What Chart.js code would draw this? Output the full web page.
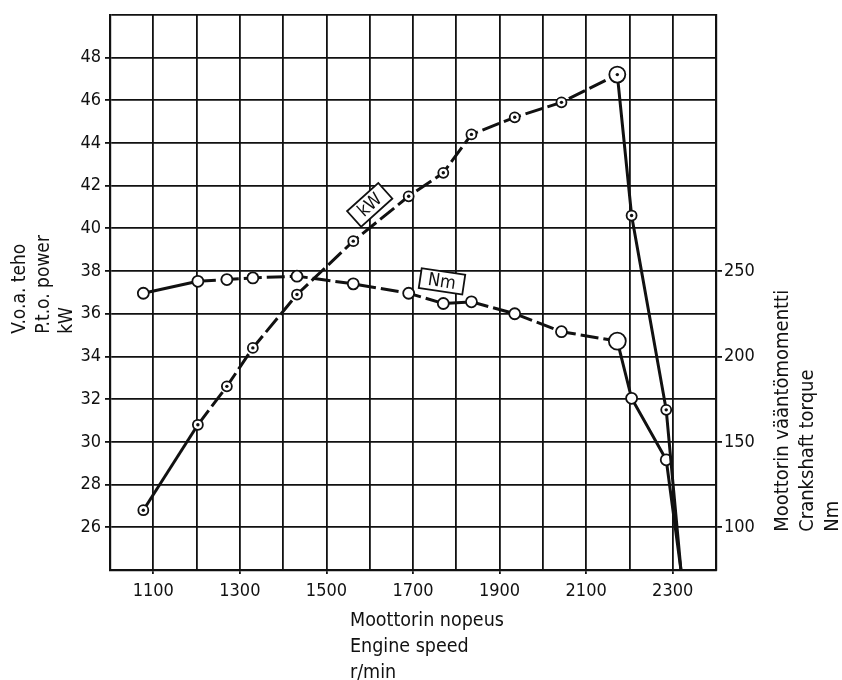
<!DOCTYPE html>
<html>
  <head>
    <title>Moottorin teho ja vääntömomentti</title>
    <script src="https://cdn.jsdelivr.net/npm/chart.js"></script>
    <style>
      body { margin: 0; background: #fff; }
      #wrap { width: 842px; height: 680px; }
    </style>
  </head>
  <body>
    <div id="wrap"><canvas id="engineChart"></canvas></div>

    <script>
      // Mittauspisteet (r/min) - sama kierrosluku molemmille sarjoille
      var rpm = [1077, 1203, 1270, 1330, 1432, 1562, 1690, 1770, 1835, 1935, 2043, 2172, 2205, 2285, 2319];
      // Voimanottoakselin teho, kW
      var powerKw = [26.8, 30.8, 32.6, 34.4, 36.9, 39.4, 41.5, 42.6, 44.4, 45.2, 45.9, 47.2, 40.6, 31.5, 24];
      // Kampiakselin vääntömomentti, Nm
      var torqueNm = [237, 244, 245, 246, 247, 242.5, 237, 231, 232, 225, 214.5, 209, 175.5, 139.5, 75];

      var kwTicks = [26, 28, 30, 32, 34, 36, 38, 40, 42, 44, 46, 48];
      var nmTicks = [100, 150, 200, 250];
      var rpmTicks = [1100, 1300, 1500, 1700, 1900, 2100, 2300];

      var leftTitle = ["V.o.a. teho", "P.t.o. power", "kW"];
      var rightTitle = ["Moottorin vääntömomentti", "Crankshaft torque", "Nm"];
      var bottomTitle = ["Moottorin nopeus", "Engine speed", "r/min"];

      var peakIndex = 11;
      var solidKw = [0, 11, 12, 13];
      var solidNm = [0, 11, 12, 13];

      var FONT = '"DejaVu Sans Condensed", "DejaVu Sans", sans-serif';
      var INK = "#111";

      function pts(ys) {
        return rpm.map(function (r, i) { return { x: r, y: ys[i] }; });
      }

      // Pisteiden säde: huippu isompana, viimeinen piste ilman merkkiä
      function radius(big, normal) {
        return function (c) {
          if (c.dataIndex === rpm.length - 1) return 0;
          return c.dataIndex === peakIndex ? big : normal;
        };
      }

      // Piirretään otsikot ja merkinnät kaavion päälle
      var annot = {
        id: "annot",
        afterDatasetsDraw: function (chart) {
          var ctx = chart.ctx;
          // keskipiste kW-pisteisiin
          var meta = chart.getDatasetMeta(0);
          ctx.save();
          ctx.fillStyle = INK;
          meta.data.forEach(function (p) {
            if (p.options.radius > 0) {
              ctx.beginPath();
              ctx.arc(p.x, p.y, 1.7, 0, Math.PI * 2);
              ctx.fill();
            }
          });
          ctx.restore();
        },
        afterDraw: function (chart) {
          var ctx = chart.ctx;
          var a = chart.chartArea;
          var x = chart.scales.x, y = chart.scales.y, y1 = chart.scales.y1;
          ctx.save();
          ctx.fillStyle = INK;
          ctx.strokeStyle = INK;
          ctx.textAlign = "left";
          ctx.textBaseline = "alphabetic";

          // vasen otsikko
          ctx.font = "19px " + FONT;
          ctx.save();
          ctx.translate(a.left - 85, a.top + 319);
          ctx.rotate(-Math.PI / 2);
          leftTitle.forEach(function (t, i) { ctx.fillText(t, 0, i * 23.5); });
          ctx.restore();

          // oikea otsikko
          ctx.font = "20px " + FONT;
          ctx.save();
          ctx.translate(a.right + 72, a.top + 517);
          ctx.rotate(-Math.PI / 2);
          rightTitle.forEach(function (t, i) { ctx.fillText(t, 0, i * 25); });
          ctx.restore();

          // alaotsikko
          ctx.font = "19.5px " + FONT;
          bottomTitle.forEach(function (t, i) {
            ctx.fillText(t, a.left + 240, a.bottom + 56 + i * 26);
          });

          // sarjojen tunnukset laatikoissa
          function tag(text, px, py, ang, w, h) {
            ctx.save();
            ctx.translate(px, py);
            ctx.rotate(ang);
            ctx.fillStyle = "#fff";
            ctx.fillRect(-w / 2, -h / 2, w, h);
            ctx.lineWidth = 1.8;
            ctx.strokeRect(-w / 2, -h / 2, w, h);
            ctx.fillStyle = INK;
            ctx.textAlign = "center";
            ctx.textBaseline = "middle";
            ctx.font = "18px " + FONT;
            ctx.fillText(text, 0, 1);
            ctx.restore();
          }
          tag("kW", x.getPixelForValue(1600), y.getPixelForValue(41.1), -42 * Math.PI / 180, 42, 21);
          tag("Nm", x.getPixelForValue(1767), y1.getPixelForValue(244), 8.5 * Math.PI / 180, 44, 20);
          ctx.restore();
        },
      };

      var canvas = document.getElementById("engineChart").getContext("2d");

      window.myChart = new Chart(canvas, {
        type: "line",
        data: {
          datasets: [
            {
              label: "kW",
              data: pts(powerKw),
              yAxisID: "y",
              borderColor: INK,
              borderWidth: 3,
              pointBackgroundColor: "#fff",
              pointBorderColor: INK,
              pointBorderWidth: 1.8,
              pointRadius: radius(8, 5),
              tension: 0,
              segment: {
                borderDash: function (c) { return solidKw.indexOf(c.p0DataIndex) >= 0 ? [] : [18, 5]; },
              },
            },
            {
              label: "Nm",
              data: pts(torqueNm),
              yAxisID: "y1",
              borderColor: INK,
              borderWidth: 3,
              pointBackgroundColor: "#fff",
              pointBorderColor: INK,
              pointBorderWidth: 1.8,
              pointRadius: radius(8.5, 5.5),
              tension: 0,
              segment: {
                borderDash: function (c) { return solidNm.indexOf(c.p0DataIndex) >= 0 ? [] : [18, 5]; },
              },
            },
          ],
        },
        options: {
          responsive: true,
          maintainAspectRatio: false,
          animation: false,
          layout: { padding: { top: 12, bottom: 0, left: 0, right: 0 } },
          plugins: { legend: false, tooltip: { enabled: false } },
          scales: {
            x: {
              type: "linear",
              min: 1000,
              max: 2400,
              afterFit: function (s) { s.height = 110; },
              border: { color: INK, width: 2.2 },
              grid: {
                color: INK,
                lineWidth: 1.8,
                tickLength: 4,
                tickColor: function (c) {
                  return c.tick && rpmTicks.indexOf(c.tick.value) >= 0 ? INK : "rgba(0,0,0,0)";
                },
              },
              ticks: {
                stepSize: 100,
                autoSkip: false,
                maxRotation: 0,
                padding: 7,
                color: INK,
                font: { family: FONT, size: 18 },
                callback: function (v) { return rpmTicks.indexOf(v) >= 0 ? v : ""; },
              },
            },
            y: {
              position: "left",
              min: 24,
              max: 50,
              afterFit: function (s) { s.width = 110; },
              border: { color: INK, width: 2.2 },
              grid: {
                color: INK,
                lineWidth: 1.8,
                tickLength: 5,
                tickColor: function (c) {
                  return c.tick && kwTicks.indexOf(c.tick.value) >= 0 ? INK : "rgba(0,0,0,0)";
                },
              },
              ticks: {
                stepSize: 2,
                autoSkip: false,
                padding: 4,
                color: INK,
                font: { family: FONT, size: 18 },
                callback: function (v) { return kwTicks.indexOf(v) >= 0 ? v : ""; },
              },
            },
            y1: {
              position: "right",
              min: 75,
              max: 400,
              afterFit: function (s) { s.width = 126; },
              border: { color: INK, width: 2.2 },
              grid: {
                drawOnChartArea: false,
                tickLength: 6,
                lineWidth: 1.8,
                tickColor: function (c) {
                  return c.tick && nmTicks.indexOf(c.tick.value) >= 0 ? INK : "rgba(0,0,0,0)";
                },
              },
              ticks: {
                stepSize: 25,
                autoSkip: false,
                padding: 2,
                color: INK,
                font: { family: FONT, size: 18 },
                callback: function (v) { return nmTicks.indexOf(v) >= 0 ? v : ""; },
              },
            },
          },
        },
        plugins: [annot],
      });
    </script>
  </body>
</html>
